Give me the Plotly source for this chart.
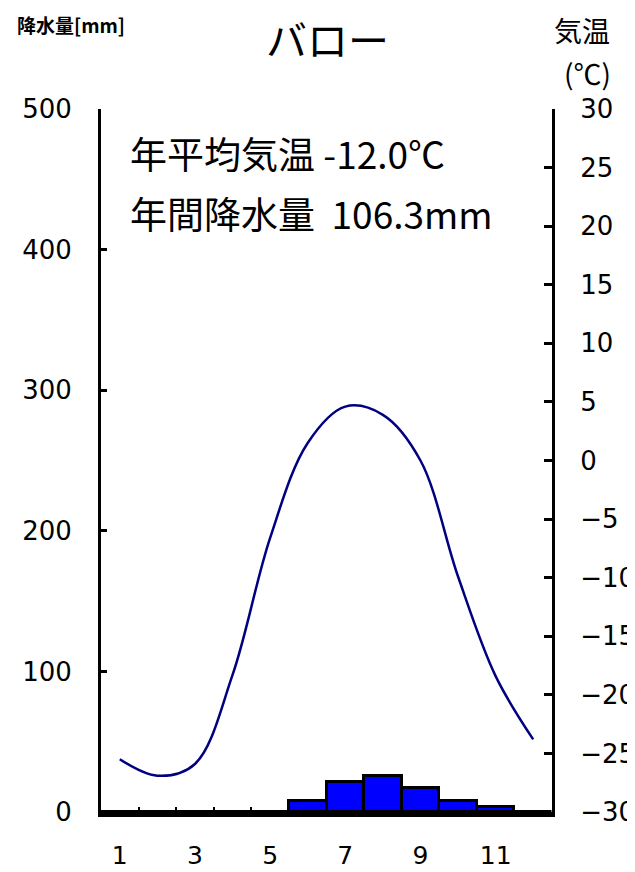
import plotly.graph_objects as go

months = [1, 2, 3, 4, 5, 6, 7, 8, 9, 10, 11, 12]
precip_mm = [0, 0, 0, 0, 0, 7.8, 21.1, 25.6, 16.8, 7.6, 3.3, 0]
temp_c = [-25.5, -26.9, -25.9, -18.3, -6.6, 1.5, 4.6, 3.9, 0.0, -9.9, -18.4, -23.8]

x_ticks = [1, 3, 5, 7, 9, 11]
x_minor = [1.5, 2.5, 3.5, 4.5, 5.5, 6.5, 7.5, 8.5, 9.5, 10.5, 11.5]
left_ticks = [0, 100, 200, 300, 400, 500]
right_ticks = [-30, -25, -20, -15, -10, -5, 0, 5, 10, 15, 20, 25, 30]

title_text = "バロー"
left_label = "降水量[mm]"
right_label1 = "気温"
right_label2 = "(℃)"
info1 = "年平均気温\u00a0-12.0℃"
info2 = "年間降水量\u00a0\u00a0106.3mm"

FONT = "Noto Sans CJK JP"
TICKFONT = "DejaVu Sans"

fig = go.Figure()
fig.add_trace(go.Bar(
    x=months, y=precip_mm, width=1.0, yaxis="y",
    marker=dict(color="#0000FF", line=dict(color="black", width=3)),
    showlegend=False, hoverinfo="skip",
))
fig.add_trace(go.Scatter(
    x=months, y=temp_c, yaxis="y2", mode="lines",
    line=dict(color="#000080", width=2.5, shape="spline", smoothing=1.0),
    showlegend=False, hoverinfo="skip",
))

# page has an 8px body margin: figure is sized to fit the 635x872 window
fig.update_layout(
    width=627, height=864,
    margin=dict(l=93, r=83, t=101, b=60, pad=0),
    paper_bgcolor="white", plot_bgcolor="white",
    font=dict(family=FONT, color="black", size=24),
    bargap=0,
    xaxis=dict(
        range=[0.5, 12.5], tickvals=x_ticks, ticktext=[str(v) for v in x_ticks],
        ticks="", showgrid=False, zeroline=False, automargin=False,
        showline=True, linecolor="black", linewidth=5,
        tickfont=dict(size=25, family=TICKFONT), ticklabelstandoff=17,
        minor=dict(tickvals=x_minor, ticks="inside", ticklen=5, tickwidth=2,
                   tickcolor="black", showgrid=False),
    ),
    yaxis=dict(
        range=[0, 500], tickvals=left_ticks, showgrid=False, zeroline=False,
        automargin=False,
        ticks="inside", ticklen=6, tickwidth=3, tickcolor="black",
        showline=True, linecolor="black", linewidth=3,
        tickfont=dict(size=26, family=TICKFONT), ticklabelstandoff=21,
    ),
    yaxis2=dict(
        range=[-30, 30], tickvals=right_ticks, overlaying="y", side="right",
        showgrid=False, zeroline=False, automargin=False,
        ticks="inside", ticklen=8, tickwidth=3, tickcolor="black",
        showline=True, linecolor="black", linewidth=3,
        tickfont=dict(size=26, family=TICKFONT), ticklabelstandoff=20,
    ),
)

def ann(text, x, y, size, xanchor="left", bold=False):
    t = f"<b>{text}</b>" if bold else text
    fig.add_annotation(text=t, x=x, y=y, xref="paper", yref="paper",
                       xanchor=xanchor, yanchor="middle", showarrow=False,
                       font=dict(size=size, family=FONT, color="black"))

ann(left_label, -0.1907, 1.1209, 19, bold=True)
ann(title_text, 0.5033, 1.101, 41, xanchor="center")
ann(right_label1, 1.0665, 1.1124, 28, xanchor="center")
ann(right_label2, 1.0787, 1.0505, 28, xanchor="center")
ann(info1, 0.0599, 0.9374, 37)
ann(info2, 0.0599, 0.852, 37)

fig.write_html("out.html")
